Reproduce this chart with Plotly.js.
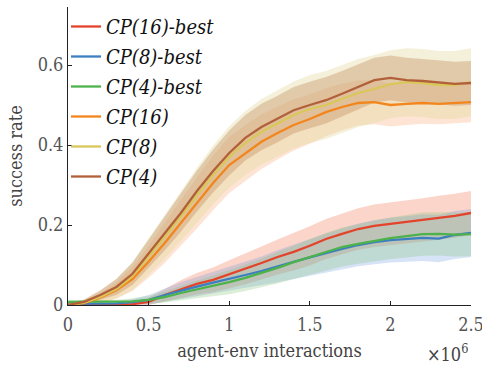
<!DOCTYPE html>
<html><head><meta charset="utf-8">
<script src="https://cdn.plot.ly/plotly-3.0.1.min.js"></script>
<style>html,body{margin:0;padding:0;background:#fff}#chart{width:482px;height:366px}</style>
</head><body><div id="chart"></div>
<script>
// x in units of 1e6 agent-env interactions
const steps = [0,0.1,0.2,0.3,0.4,0.5,0.6,0.7,0.8,0.9,1.0,1.1,1.2,1.3,1.4,1.5,1.6,1.7,1.8,1.9,2.0,2.1,2.2,2.3,2.4,2.5];

const seriesNames = ["CP(16)-best","CP(8)-best","CP(4)-best","CP(16)","CP(8)","CP(4)"];

const cp16best = [0,0,0,0,0.002,0.008,0.025,0.04,0.053,0.063,0.077,0.09,0.105,0.12,0.133,0.148,0.165,0.178,0.19,0.198,0.203,0.208,0.213,0.218,0.223,0.23];
const cp8best  = [0.003,0.003,0.003,0.004,0.007,0.013,0.025,0.036,0.046,0.056,0.065,0.075,0.085,0.097,0.108,0.119,0.13,0.14,0.15,0.157,0.162,0.165,0.168,0.166,0.175,0.18];
const cp4best  = [0.008,0.008,0.008,0.008,0.009,0.013,0.02,0.03,0.039,0.048,0.057,0.068,0.08,0.093,0.107,0.12,0.133,0.145,0.153,0.16,0.167,0.172,0.177,0.178,0.176,0.177];
const cp16     = [0,0.005,0.018,0.037,0.065,0.108,0.155,0.205,0.255,0.305,0.35,0.38,0.408,0.43,0.45,0.465,0.482,0.495,0.505,0.507,0.5,0.503,0.505,0.503,0.505,0.507];
const cp8      = [0,0.006,0.02,0.04,0.072,0.12,0.17,0.222,0.275,0.325,0.37,0.405,0.433,0.455,0.475,0.49,0.5,0.515,0.53,0.54,0.552,0.557,0.555,0.55,0.55,0.557];
const cp4      = [0,0.008,0.025,0.045,0.078,0.128,0.178,0.23,0.285,0.335,0.38,0.418,0.445,0.465,0.487,0.5,0.512,0.528,0.545,0.562,0.568,0.562,0.56,0.557,0.553,0.555];

// spread (half-width of shaded band)
const cp16bestSd = [0,0,0.001,0.003,0.006,0.01,0.016,0.022,0.027,0.031,0.035,0.038,0.041,0.044,0.047,0.049,0.05,0.051,0.052,0.053,0.053,0.054,0.054,0.055,0.055,0.055];
const cp8bestSd  = [0.002,0.002,0.003,0.005,0.008,0.012,0.017,0.021,0.024,0.027,0.03,0.033,0.036,0.04,0.043,0.046,0.049,0.051,0.053,0.055,0.056,0.057,0.058,0.059,0.06,0.06];
const cp4bestSd  = [0.004,0.004,0.004,0.005,0.007,0.01,0.014,0.018,0.022,0.026,0.03,0.033,0.036,0.039,0.042,0.045,0.047,0.049,0.05,0.051,0.052,0.053,0.054,0.054,0.055,0.055];
const cp16Sd     = [0.004,0.006,0.012,0.02,0.03,0.04,0.05,0.058,0.064,0.068,0.07,0.07,0.068,0.066,0.064,0.062,0.06,0.058,0.056,0.055,0.054,0.053,0.052,0.051,0.05,0.05];
const cp8Sd      = [0.005,0.008,0.015,0.025,0.035,0.045,0.055,0.062,0.068,0.073,0.077,0.08,0.082,0.083,0.084,0.085,0.085,0.085,0.085,0.085,0.085,0.085,0.085,0.085,0.085,0.085];
const cp4Sd      = [0.004,0.006,0.012,0.02,0.028,0.036,0.042,0.047,0.051,0.054,0.056,0.057,0.058,0.058,0.058,0.058,0.058,0.057,0.057,0.056,0.056,0.056,0.055,0.055,0.055,0.055];

const means = [cp16best, cp8best, cp4best, cp16, cp8, cp4];
const sds = [cp16bestSd, cp8bestSd, cp4bestSd, cp16Sd, cp8Sd, cp4Sd];
const lineColors = ['#e4432b','#3b7fc1','#4db24b','#f2861c','#d9c75a','#b2603a'];
const bandColors = ['rgba(244,120,90,0.32)','rgba(110,155,225,0.28)','rgba(130,195,115,0.28)','rgba(252,170,120,0.32)','rgba(228,218,160,0.4)','rgba(195,140,95,0.38)'];

const FONT = "'DejaVu Serif Condensed', 'DejaVu Serif', serif";
const traces = [];
for (let i = 0; i < means.length; i++) {
  traces.push({x: steps, y: means[i].map((v,k)=>Math.max(0, v - sds[i][k])), mode:'lines', line:{width:0, color:bandColors[i]}, showlegend:false, hoverinfo:'skip'});
  traces.push({x: steps, y: means[i].map((v,k)=>v + sds[i][k]), mode:'lines', line:{width:0, color:bandColors[i]}, fill:'tonexty', fillcolor:bandColors[i], showlegend:false, hoverinfo:'skip'});
}
for (let i = 0; i < means.length; i++) {
  traces.push({x: steps, y: means[i], mode:'lines', name: seriesNames[i], legendgroup:'g'+i, line:{width:2.3, color: lineColors[i]}});
}

const layout = {
  width: 482, height: 366,
  margin: {l:68, r:11, t:7, b:61},
  paper_bgcolor:'#fff', plot_bgcolor:'#fff',
  font: {family: FONT, size: 18, color:'#444'},
  showlegend: true,
  legend: {x: -0.005, y: 1.0, xanchor:'left', yanchor:'top', bgcolor:'rgba(0,0,0,0)',
           font:{family: FONT, size: 20, color:'#111', style:'italic'}, tracegroupgap: 1, traceorder:'grouped'},
  xaxis: {range:[0,2.5], showgrid:false, zeroline:false, showline:true, linecolor:'#222', linewidth:1,
          ticks:'inside', ticklen:4, tickcolor:'#222', tickvals:[0,0.5,1,1.5,2,2.5], ticktext:['0','0.5','1','1.5','2','2.5'],
          ticklabeloverflow:'allow', ticklabelstandoff:3, tickfont:{family:FONT, size:18, color:'#555'},
          title:{text:'agent-env interactions', font:{family:FONT, size:18, color:'#444'}, standoff:10}},
  yaxis: {range:[0,0.745], showgrid:false, zeroline:false, showline:true, linecolor:'#222', linewidth:1,
          ticks:'inside', ticklen:4, tickcolor:'#222', tickvals:[0,0.2,0.4,0.6], ticktext:['0','0.2','0.4','0.6'],
          tickfont:{family:FONT, size:18, color:'#555'},
          title:{text:'success rate', font:{family:FONT, size:18, color:'#444'}, standoff:10}},
  annotations: [{xref:'paper', yref:'paper', x:0.9975, y:-0.115, xanchor:'right', yanchor:'top', showarrow:false,
                 text:'×10<sup>6</sup>', font:{family:FONT, size:18, color:'#444'}}]
};
Plotly.newPlot('chart', traces, layout, {displayModeBar:false, staticPlot:true});
</script></body></html>
